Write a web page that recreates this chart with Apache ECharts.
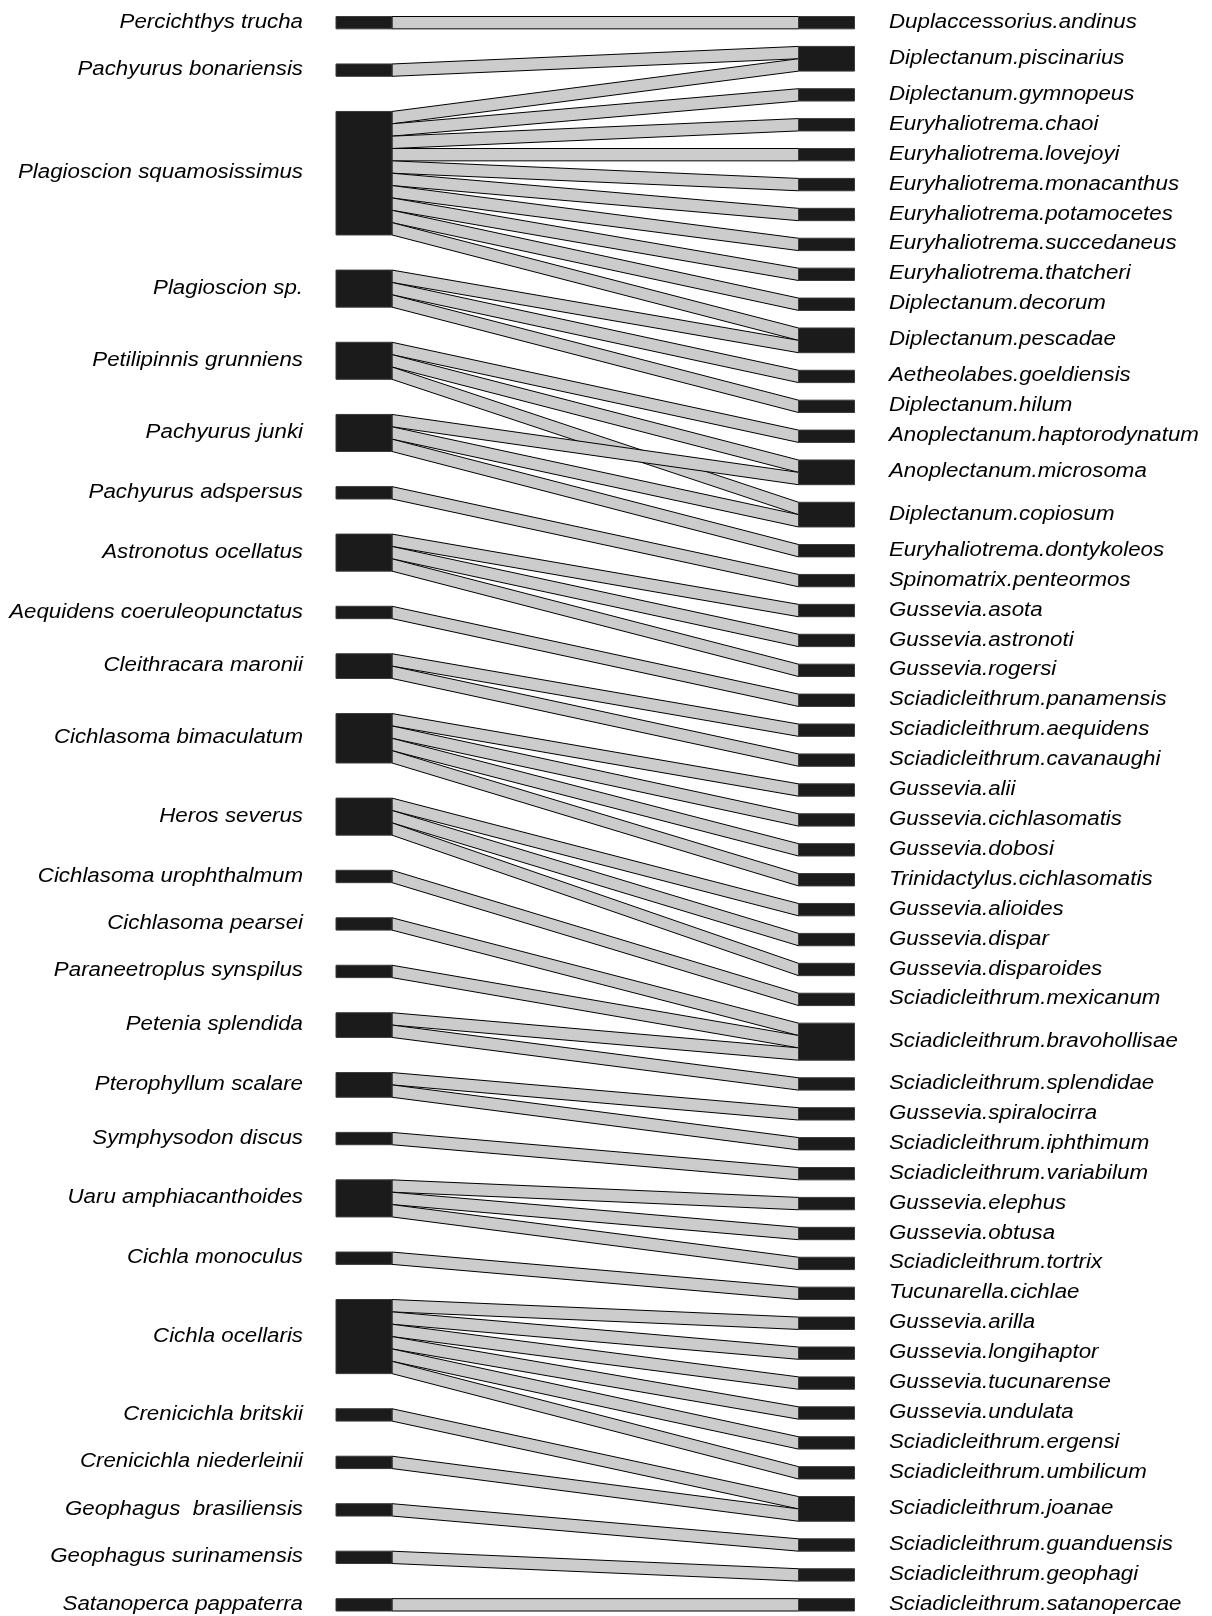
<!DOCTYPE html>
<html><head><meta charset="utf-8">
<script src="https://cdn.jsdelivr.net/npm/echarts@6/dist/echarts.min.js"></script>
<style>html,body{margin:0;padding:0;background:#fff}#c{width:1212px;height:1616px}</style>
</head><body><div id="c"></div>
<script>
// ---- data ----
const hosts = [
  "Percichthys trucha","Pachyurus bonariensis","Plagioscion squamosissimus","Plagioscion sp.",
  "Petilipinnis grunniens","Pachyurus junki","Pachyurus adspersus","Astronotus ocellatus",
  "Aequidens coeruleopunctatus","Cleithracara maronii","Cichlasoma bimaculatum","Heros severus",
  "Cichlasoma urophthalmum","Cichlasoma pearsei","Paraneetroplus synspilus","Petenia splendida",
  "Pterophyllum scalare","Symphysodon discus","Uaru amphiacanthoides","Cichla monoculus",
  "Cichla ocellaris","Crenicichla britskii","Crenicichla niederleinii","Geophagus  brasiliensis",
  "Geophagus surinamensis","Satanoperca pappaterra"
];
const parasites = [
  "Duplaccessorius.andinus","Diplectanum.piscinarius","Diplectanum.gymnopeus","Euryhaliotrema.chaoi",
  "Euryhaliotrema.lovejoyi","Euryhaliotrema.monacanthus","Euryhaliotrema.potamocetes","Euryhaliotrema.succedaneus",
  "Euryhaliotrema.thatcheri","Diplectanum.decorum","Diplectanum.pescadae","Aetheolabes.goeldiensis",
  "Diplectanum.hilum","Anoplectanum.haptorodynatum","Anoplectanum.microsoma","Diplectanum.copiosum",
  "Euryhaliotrema.dontykoleos","Spinomatrix.penteormos","Gussevia.asota","Gussevia.astronoti",
  "Gussevia.rogersi","Sciadicleithrum.panamensis","Sciadicleithrum.aequidens","Sciadicleithrum.cavanaughi",
  "Gussevia.alii","Gussevia.cichlasomatis","Gussevia.dobosi","Trinidactylus.cichlasomatis",
  "Gussevia.alioides","Gussevia.dispar","Gussevia.disparoides","Sciadicleithrum.mexicanum",
  "Sciadicleithrum.bravohollisae","Sciadicleithrum.splendidae","Gussevia.spiralocirra","Sciadicleithrum.iphthimum",
  "Sciadicleithrum.variabilum","Gussevia.elephus","Gussevia.obtusa","Sciadicleithrum.tortrix",
  "Tucunarella.cichlae","Gussevia.arilla","Gussevia.longihaptor","Gussevia.tucunarense",
  "Gussevia.undulata","Sciadicleithrum.ergensi","Sciadicleithrum.umbilicum","Sciadicleithrum.joanae",
  "Sciadicleithrum.guanduensis","Sciadicleithrum.geophagi","Sciadicleithrum.satanopercae"
];
const links = [
  ["Percichthys trucha","Duplaccessorius.andinus"],
  ["Pachyurus bonariensis","Diplectanum.piscinarius"],
  ["Plagioscion squamosissimus","Diplectanum.piscinarius"],
  ["Plagioscion squamosissimus","Diplectanum.gymnopeus"],
  ["Plagioscion squamosissimus","Euryhaliotrema.chaoi"],
  ["Plagioscion squamosissimus","Euryhaliotrema.lovejoyi"],
  ["Plagioscion squamosissimus","Euryhaliotrema.monacanthus"],
  ["Plagioscion squamosissimus","Euryhaliotrema.potamocetes"],
  ["Plagioscion squamosissimus","Euryhaliotrema.succedaneus"],
  ["Plagioscion squamosissimus","Euryhaliotrema.thatcheri"],
  ["Plagioscion squamosissimus","Diplectanum.decorum"],
  ["Plagioscion squamosissimus","Diplectanum.pescadae"],
  ["Plagioscion sp.","Diplectanum.pescadae"],
  ["Plagioscion sp.","Aetheolabes.goeldiensis"],
  ["Plagioscion sp.","Diplectanum.hilum"],
  ["Petilipinnis grunniens","Anoplectanum.haptorodynatum"],
  ["Petilipinnis grunniens","Anoplectanum.microsoma"],
  ["Petilipinnis grunniens","Diplectanum.copiosum"],
  ["Pachyurus junki","Anoplectanum.microsoma"],
  ["Pachyurus junki","Diplectanum.copiosum"],
  ["Pachyurus junki","Euryhaliotrema.dontykoleos"],
  ["Pachyurus adspersus","Spinomatrix.penteormos"],
  ["Astronotus ocellatus","Gussevia.asota"],
  ["Astronotus ocellatus","Gussevia.astronoti"],
  ["Astronotus ocellatus","Gussevia.rogersi"],
  ["Aequidens coeruleopunctatus","Sciadicleithrum.panamensis"],
  ["Cleithracara maronii","Sciadicleithrum.aequidens"],
  ["Cleithracara maronii","Sciadicleithrum.cavanaughi"],
  ["Cichlasoma bimaculatum","Gussevia.alii"],
  ["Cichlasoma bimaculatum","Gussevia.cichlasomatis"],
  ["Cichlasoma bimaculatum","Gussevia.dobosi"],
  ["Cichlasoma bimaculatum","Trinidactylus.cichlasomatis"],
  ["Heros severus","Gussevia.alioides"],
  ["Heros severus","Gussevia.dispar"],
  ["Heros severus","Gussevia.disparoides"],
  ["Cichlasoma urophthalmum","Sciadicleithrum.mexicanum"],
  ["Cichlasoma pearsei","Sciadicleithrum.bravohollisae"],
  ["Paraneetroplus synspilus","Sciadicleithrum.bravohollisae"],
  ["Petenia splendida","Sciadicleithrum.bravohollisae"],
  ["Petenia splendida","Sciadicleithrum.splendidae"],
  ["Pterophyllum scalare","Gussevia.spiralocirra"],
  ["Pterophyllum scalare","Sciadicleithrum.iphthimum"],
  ["Symphysodon discus","Sciadicleithrum.variabilum"],
  ["Uaru amphiacanthoides","Gussevia.elephus"],
  ["Uaru amphiacanthoides","Gussevia.obtusa"],
  ["Uaru amphiacanthoides","Sciadicleithrum.tortrix"],
  ["Cichla monoculus","Tucunarella.cichlae"],
  ["Cichla ocellaris","Gussevia.arilla"],
  ["Cichla ocellaris","Gussevia.longihaptor"],
  ["Cichla ocellaris","Gussevia.tucunarense"],
  ["Cichla ocellaris","Gussevia.undulata"],
  ["Cichla ocellaris","Sciadicleithrum.ergensi"],
  ["Cichla ocellaris","Sciadicleithrum.umbilicum"],
  ["Crenicichla britskii","Sciadicleithrum.joanae"],
  ["Crenicichla niederleinii","Sciadicleithrum.joanae"],
  ["Geophagus  brasiliensis","Sciadicleithrum.guanduensis"],
  ["Geophagus surinamensis","Sciadicleithrum.geophagi"],
  ["Satanoperca pappaterra","Sciadicleithrum.satanopercae"]
];

// ---- layout (in axis units: 1 unit = one interaction) ----
const BOX = 0.108;          // box width as fraction of x span
const GAP_R = 1.422;        // gap between right-column boxes, in units
const LABEL_L = -0.0636, LABEL_R = 1.0665;
const hostDeg = hosts.map(h => links.filter(l => l[0] === h).length);
const parDeg = parasites.map(p => links.filter(l => l[1] === p).length);
const totalUnits = hostDeg.reduce((a, b) => a + b, 0);
const span = totalUnits + GAP_R * (parasites.length - 1);
const GAP_L = (span - totalUnits) / (hosts.length - 1);
function tops(deg, gap) { let y = 0; return deg.map(d => { const t = y; y += d + gap; return t; }); }
const hostTop = tops(hostDeg, GAP_L), parTop = tops(parDeg, GAP_R);

const geom = links.map(l => ({ h: hosts.indexOf(l[0]), p: parasites.indexOf(l[1]) }));
hosts.forEach((_, i) => {
  geom.filter(g => g.h === i).sort((a, b) => a.p - b.p).forEach((g, k) => g.ly = hostTop[i] + k);
});
parasites.forEach((_, j) => {
  geom.filter(g => g.p === j).sort((a, b) => a.h - b.h).forEach((g, k) => g.ry = parTop[j] + k);
});

const nodeNames = hosts.concat(parasites);
const nodeData = hosts.map((h, i) => [0, hostTop[i], hostDeg[i]])
  .concat(parasites.map((p, j) => [1, parTop[j], parDeg[j]]));

const FONT = { fontSize: 20, fontStyle: 'italic', fontFamily: '"Liberation Sans", Arial, Helvetica, sans-serif', fill: '#000' };

const chart = echarts.init(document.getElementById('c'), null, { renderer: 'canvas' });
chart.setOption({
  backgroundColor: '#ffffff',
  animation: false,
  grid: { left: 336, width: 518.5, top: 16.5, height: 1594.5 },
  xAxis: { type: 'value', min: 0, max: 1, show: false },
  yAxis: { type: 'value', min: 0, max: span, inverse: true, show: false },
  series: [
    {
      type: 'custom', silent: true, clip: false,
      data: geom.map(g => [g.ly, g.ry]),
      renderItem(params, api) {
        const ly = api.value(0), ry = api.value(1);
        const a = api.coord([BOX, ly]), b = api.coord([BOX, ly + 1]);
        const c = api.coord([1 - BOX, ry + 1]), d = api.coord([1 - BOX, ry]);
        return { type: 'polygon', shape: { points: [a, b, c, d] },
          style: { fill: '#cccccc', stroke: '#000000', lineWidth: 1 } };
      }
    },
    {
      type: 'custom', silent: true, clip: false,
      data: nodeData,
      renderItem(params, api) {
        const side = api.value(0), top = api.value(1), deg = api.value(2);
        const x0 = side === 0 ? 0 : 1 - BOX, x1 = side === 0 ? BOX : 1;
        const p0 = api.coord([x0, top]), p1 = api.coord([x1, top + deg]);
        const lp = api.coord([side === 0 ? LABEL_L : LABEL_R, top + deg / 2]);
        const align = side === 0 ? 'right' : 'left';
        return { type: 'group', children: [
          { type: 'rect', shape: { x: p0[0], y: p0[1], width: p1[0] - p0[0], height: p1[1] - p0[1] },
            style: { fill: '#1b1b1b', stroke: '#3a3a3a', lineWidth: 1 } },
          { type: 'text', x: lp[0], y: lp[1] - 0.5, scaleX: 1.115,
            style: Object.assign({ text: nodeNames[params.dataIndex], x: 0, y: 0,
              align: align, verticalAlign: 'middle', textAlign: align, textVerticalAlign: 'middle' }, FONT) }
        ] };
      }
    }
  ]
});
</script>
</body></html>
